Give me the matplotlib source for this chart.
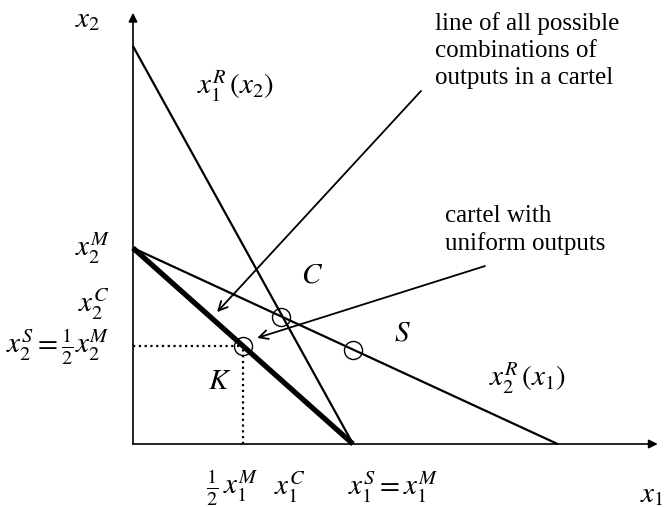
import numpy as np
import matplotlib
matplotlib.use('Agg')
import matplotlib.pyplot as plt

matplotlib.rcParams.update({'font.family': 'Liberation Serif',
                            'mathtext.fontset': 'stix',
                            'font.size': 18})

# economic quantities (units: monopoly output = 1)
x1_monopoly = 1.0
x2_monopoly = 1.0
x1R_at_x2_axis = 2.03   # x1^R(x2) meets the x2 axis
x2R_at_x1_axis = 1.93   # x2^R(x1) meets the x1 axis

cournot = (0.675, 0.65)      # C
stackelberg = (1.0, 0.482)   # S
cartel_uniform = (0.5, 0.5)  # K

# reaction curves and the cartel line (x1 list, x2 list)
x1R_line = ([0.0, x1_monopoly], [x1R_at_x2_axis, 0.0])
x2R_line = ([0.0, x2R_at_x1_axis], [x2_monopoly, 0.0])
cartel_line = ([0.0, x1_monopoly], [x2_monopoly, 0.0])

fig = plt.figure(figsize=(6.64, 5.07), dpi=100)
ax = fig.add_axes([0, 0, 1, 1])
ax.set_xlim(-0.6045, 2.4136)
ax.set_ylim(-0.3214, 2.2653)
ax.axis('off')

# axes with arrow heads
ax.annotate('', xy=(2.385, 0), xytext=(0, 0),
            arrowprops=dict(arrowstyle='-|>', color='black', lw=1.2,
                            mutation_scale=13, shrinkA=0, shrinkB=0))
ax.annotate('', xy=(0, 2.2), xytext=(0, 0),
            arrowprops=dict(arrowstyle='-|>', color='black', lw=1.2,
                            mutation_scale=13, shrinkA=0, shrinkB=0))

ax.plot(*x1R_line, color='black', lw=1.6, solid_capstyle='butt')
ax.plot(*x2R_line, color='black', lw=1.6, solid_capstyle='butt')
ax.plot(*cartel_line, color='black', lw=3.8, solid_capstyle='butt')

# dotted guide lines to K
ax.plot([0, cartel_uniform[0]], [cartel_uniform[1], cartel_uniform[1]],
        color='black', lw=1.6, ls=(0, (1, 1.6)))
ax.plot([cartel_uniform[0], cartel_uniform[0]], [0, cartel_uniform[1]],
        color='black', lw=1.6, ls=(0, (1, 1.6)))

# equilibrium circles
for pt in [cournot, stackelberg, cartel_uniform]:
    ax.plot(pt[0], pt[1], marker='o', markersize=13, markerfacecolor='none',
            markeredgecolor='black', markeredgewidth=1.0)

# explanatory arrows
ax.annotate('', xy=(0.382, 0.673), xytext=(1.309, 1.801),
            arrowprops=dict(arrowstyle='->', color='black', lw=1.3,
                            mutation_scale=16, shrinkA=0, shrinkB=0))
ax.annotate('', xy=(0.564, 0.541), xytext=(1.6, 0.908),
            arrowprops=dict(arrowstyle='->', color='black', lw=1.3,
                            mutation_scale=16, shrinkA=0, shrinkB=0))

ax.text(1.373, 2.205, 'line of all possible\ncombinations of\noutputs in a cartel',
        ha='left', va='top', linespacing=1.31)
ax.text(1.418, 1.092, 'cartel with\nuniform outputs', ha='left', va='center',
        linespacing=1.33)

# math labels
ms = 21
ax.text(-0.205, 2.163, r'$x_2$', ha='center', va='center', fontsize=ms)
ax.text(2.359, -0.26, r'$x_1$', ha='center', va='center', fontsize=ms)
ax.text(0.468, 1.827, r'$x_1^R\,(x_2)$', ha='center', va='center', fontsize=ms)
ax.text(1.795, 0.337, r'$x_2^R\,(x_1)$', ha='center', va='center', fontsize=ms)

ax.text(-0.105, 1.0, r'$x_2^M$', ha='right', va='center', fontsize=ms)
ax.text(-0.105, 0.715, r'$x_2^C$', ha='right', va='center', fontsize=ms)
ax.text(-0.105, 0.495, r'$x_2^S=\frac{1}{2}x_2^M$', ha='right', va='center', fontsize=ms)

ax.text(0.45, -0.222, r'$\frac{1}{2}\,x_1^M$', ha='center', va='center', fontsize=ms)
ax.text(0.714, -0.222, r'$x_1^C$', ha='center', va='center', fontsize=ms)
ax.text(1.182, -0.222, r'$x_1^S=x_1^M$', ha='center', va='center', fontsize=ms)

ax.text(0.814, 0.862, r'$C$', ha='center', va='center', fontsize=ms)
ax.text(1.223, 0.566, r'$S$', ha='center', va='center', fontsize=ms)
ax.text(0.395, 0.316, r'$K$', ha='center', va='center', fontsize=ms)

plt.savefig('out.png', dpi=100)
